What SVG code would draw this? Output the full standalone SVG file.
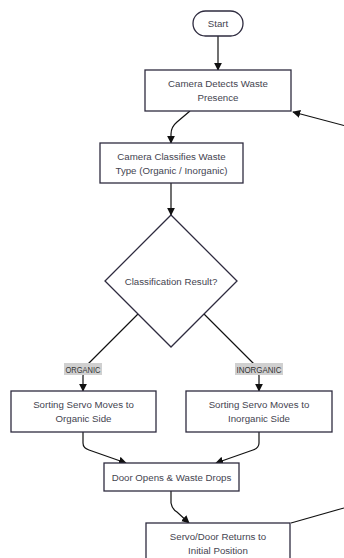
<svg xmlns="http://www.w3.org/2000/svg" width="344" height="558" viewBox="0 0 344 558">
<defs>
<marker id="arrow" viewBox="0 0 10 10" refX="9" refY="5" markerUnits="userSpaceOnUse" markerWidth="8" markerHeight="8" orient="auto">
<path d="M0,0 L10,5 L0,10 z" fill="#111"/>
</marker>
<style>
.node rect, .node polygon { fill: #ffffff; stroke: #2e2b3f; stroke-width: 1.3; }
.node text { font-family: "Liberation Sans", Arial, sans-serif; font-size: 9.7px; fill: #444450; text-anchor: middle; dominant-baseline: central; }
.edge { fill: none; stroke: #111; stroke-width: 1.2; }
.lbl rect { fill: #d0d0d0; }
.lbl text { font-family: "Liberation Sans", Arial, sans-serif; font-size: 9px; fill: #333; text-anchor: middle; dominant-baseline: central; }
</style>
</defs>
<rect width="344" height="558" fill="#ffffff"/>
<g id="connectors">
<path class="edge" d="M218,36 L218,70" marker-end="url(#arrow)"/>
<path class="edge" d="M190,111 L177,122 Q171,127 171,134 L171,143" marker-end="url(#arrow)"/>
<path class="edge" d="M344,125.5 L293,112" marker-end="url(#arrow)"/>
<path class="edge" d="M171,183 L171,215" marker-end="url(#arrow)"/>
<path class="edge" d="M138,314 L88,364 Q83,369 83,376 L83,391" marker-end="url(#arrow)"/>
<path class="edge" d="M204,314 L254,364 Q259,369 259,376 L259,391" marker-end="url(#arrow)"/>
<path class="edge" d="M83,432 L83,443 Q83,448 89,450 L126,463" marker-end="url(#arrow)"/>
<path class="edge" d="M259,432 L259,443 Q259,448 253,450 L216,463" marker-end="url(#arrow)"/>
<path class="edge" d="M171,491 L171,503 Q172,509 177,512 L189,523" marker-end="url(#arrow)"/>
<path class="edge" d="M291,523 L344,508"/>
<g class="lbl" id="label-organic">
<rect x="64" y="363" width="38" height="12"/>
<text x="83" y="369.5" textLength="35" lengthAdjust="spacingAndGlyphs">ORGANIC</text>
</g>
<g class="lbl" id="label-inorganic">
<rect x="235" y="363" width="48" height="12"/>
<text x="259" y="369.5" textLength="45" lengthAdjust="spacingAndGlyphs">INORGANIC</text>
</g>
</g>
<g class="node" id="start">
<rect x="193" y="11" width="50" height="25" rx="12.5" ry="12.5"/>
<text x="218" y="23.5">Start</text>
</g>
<g class="node" id="detect">
<rect x="145" y="70" width="146" height="41"/>
<text x="218" y="83.5">Camera Detects Waste</text>
<text x="218" y="97.5">Presence</text>
</g>
<g class="node" id="classify">
<rect x="100" y="143" width="143" height="40"/>
<text x="171.5" y="156">Camera Classifies Waste</text>
<text x="171.5" y="170">Type (Organic / Inorganic)</text>
</g>
<g class="node" id="decision">
<polygon points="171,215 237,281 171,347 105,281"/>
<text x="171" y="281">Classification Result?</text>
</g>
<g class="node" id="organic">
<rect x="11" y="391" width="145" height="41"/>
<text x="83.5" y="404.5">Sorting Servo Moves to</text>
<text x="83.5" y="418">Organic Side</text>
</g>
<g class="node" id="inorganic">
<rect x="186" y="391" width="146" height="41"/>
<text x="259" y="404.5">Sorting Servo Moves to</text>
<text x="259" y="418">Inorganic Side</text>
</g>
<g class="node" id="door">
<rect x="104" y="463" width="135" height="28"/>
<text x="171.5" y="477">Door Opens &amp; Waste Drops</text>
</g>
<g class="node" id="reset">
<rect x="146" y="523" width="144" height="41"/>
<text x="218" y="536.5">Servo/Door Returns to</text>
<text x="218" y="550">Initial Position</text>
</g>
</svg>
